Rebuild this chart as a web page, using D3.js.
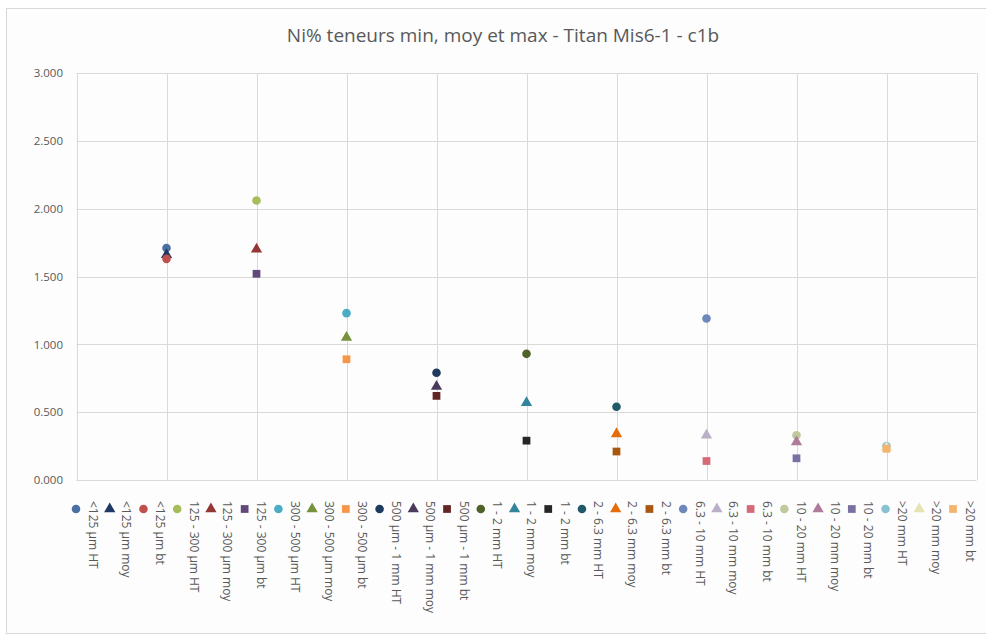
<!DOCTYPE html>
<html>
<head>
<meta charset="utf-8">
<script src="https://cdn.jsdelivr.net/npm/d3@7"></script>
<style>
  html, body { margin: 0; padding: 0; background: #ffffff; }
  svg { display: block; }
</style>
</head>
<body>
<svg id="chart" width="986" height="635"></svg>
<script>
const titleText = "Ni% teneurs min, moy et max - Titan Mis6-1 - c1b";
const categories = ["<125 µm", "125 - 300 µm", "300 - 500 µm", "500 µm - 1 mm", "1 - 2 mm", "2 - 6.3 mm", "6.3 - 10 mm", "10 - 20 mm", ">20 mm"];
const kinds = ["HT", "moy", "bt"];
const htValues  = [1.71, 2.06, 1.23, 0.79, 0.93, 0.54, 1.19, 0.33, 0.25];
const moyValues = [1.66, 1.70, 1.05, 0.69, 0.57, 0.34, 0.33, 0.28, 0.24];
const btValues  = [1.63, 1.52, 0.89, 0.62, 0.29, 0.21, 0.14, 0.16, 0.23];
const yTicks = [0, 0.5, 1, 1.5, 2, 2.5, 3];
const xGrid = [0, 1, 2, 3, 4, 5, 6, 7, 8, 9, 10];
const htColors  = ["#4A6FA5", "#A5BD5A", "#4BACC6", "#1F3A5F", "#4F6228", "#215968", "#6F88BA", "#BFC99C", "#88C2D0"];
const moyColors = ["#1F3864", "#953735", "#76923C", "#4A3B5C", "#31859C", "#E46C0A", "#B9B0C8", "#B07A9A", "#E6E3B2"];
const btColors  = ["#C0504D", "#60497A", "#F79646", "#632523", "#262626", "#A9560E", "#D46A78", "#7A70A4", "#F4B46E"];
const btShapes  = ["circle", "square", "square", "square", "square", "square", "square", "square", "square"];

// build series list (order as in the legend)
const series = [];
categories.forEach((c, i) => {
  series.push({ name: c + " HT",  x: i + 1, v: htValues[i],  color: htColors[i],  shape: "circle" });
  series.push({ name: c + " moy", x: i + 1, v: moyValues[i], color: moyColors[i], shape: "triangle" });
  series.push({ name: c + " bt",  x: i + 1, v: btValues[i],  color: btColors[i],  shape: btShapes[i] });
});

const svg = d3.select("#chart");
const font = "'Open Sans', 'Liberation Sans', sans-serif";
const textColor = "#595959";
const gridColor = "#d9d9d9";

// chart frame
svg.append("rect").attr("x", 6.5).attr("y", 8.5).attr("width", 990).attr("height", 625)
  .attr("fill", "#fdfdfd").attr("stroke", "#d9d9d9").attr("stroke-width", 1);

const plot = { left: 76.5, right: 976.5, top: 73, bottom: 480 };
const x = d3.scaleLinear().domain([0, 10]).range([plot.left, plot.right]);
const y = d3.scaleLinear().domain([0, 3]).range([plot.bottom, plot.top]);

// title
svg.append("text").attr("x", 503).attr("y", 42).attr("text-anchor", "middle")
  .attr("font-family", font).attr("font-size", 19).attr("fill", textColor)
  .text(titleText);

// gridlines
const g = svg.append("g");
g.selectAll("line.h").data(yTicks).join("line").attr("class", "h")
  .attr("x1", plot.left).attr("x2", plot.right)
  .attr("y1", d => Math.round(y(d)) + 0.5).attr("y2", d => Math.round(y(d)) + 0.5)
  .attr("stroke", gridColor).attr("stroke-width", 1);
g.selectAll("line.v").data(xGrid).join("line").attr("class", "v")
  .attr("y1", plot.top).attr("y2", plot.bottom)
  .attr("x1", d => Math.round(x(d)) + 0.5).attr("x2", d => Math.round(x(d)) + 0.5)
  .attr("stroke", gridColor).attr("stroke-width", 1);

// y axis labels via d3 axis
const yAxis = d3.axisLeft(y).tickValues(yTicks).tickFormat(d3.format(".3f")).tickSize(0).tickPadding(0);
const ya = svg.append("g").attr("transform", `translate(63,0)`).call(yAxis);
ya.select(".domain").remove();
ya.selectAll("text").attr("font-family", font).attr("font-size", 11.5).attr("fill", textColor);

// marker drawing helper
const symbolFor = shape => shape === "circle" ? d3.symbolCircle : (shape === "square" ? d3.symbolSquare : d3.symbolTriangle);
const sizeFor = shape => shape === "circle" ? 58 : (shape === "square" ? 60 : 55);

svg.append("g").selectAll("path").data(series).join("path")
  .attr("transform", d => `translate(${x(d.x)},${y(d.v)})`)
  .attr("d", d => d3.symbol().type(symbolFor(d.shape)).size(sizeFor(d.shape))())
  .attr("fill", d => d.color);

// legend
const lx = d3.scalePoint().domain(series.map(d => d.name)).range([76, 953]);
const leg = svg.append("g");
const items = leg.selectAll("g").data(series).join("g")
  .attr("transform", d => `translate(${lx(d.name)},509)`);
items.append("path")
  .attr("d", d => d3.symbol().type(symbolFor(d.shape)).size(sizeFor(d.shape))())
  .attr("fill", d => d.color);
items.append("text")
  .attr("transform", "translate(17,-8) rotate(90)")
  .attr("dominant-baseline", "central")
  .attr("font-family", font).attr("font-size", 12).attr("fill", textColor)
  .text(d => d.name);
</script>
</body>
</html>
